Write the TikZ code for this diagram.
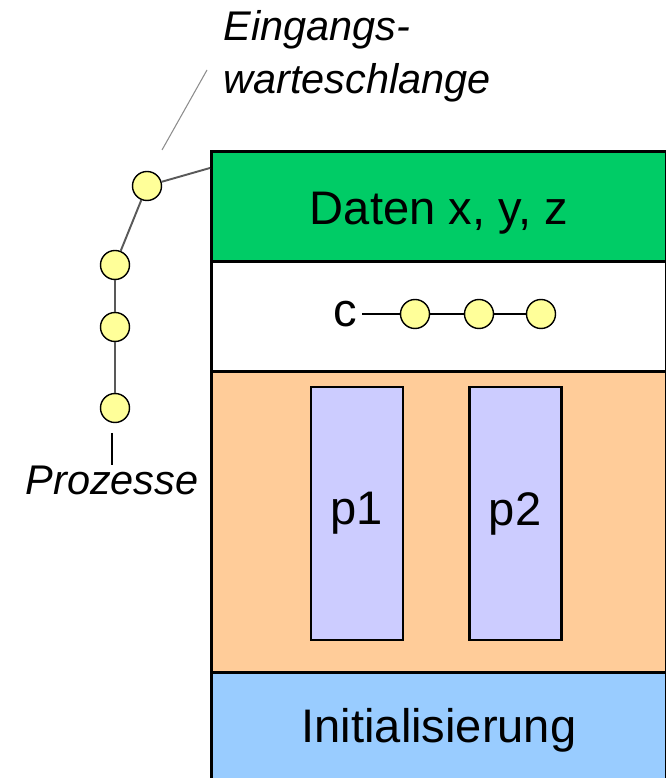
\documentclass[tikz,border=0pt]{standalone}
\usepackage{fontspec}
\setmainfont{Liberation Sans}
\usetikzlibrary{positioning}
\definecolor{datagreen}{RGB}{0,204,102}
\definecolor{procorange}{RGB}{255,204,153}
\definecolor{initblue}{RGB}{153,204,255}
\definecolor{procblue}{RGB}{204,204,255}
\definecolor{elemyellow}{RGB}{255,255,153}

\begin{document}
\begin{tikzpicture}[font=\fontsize{26.8}{32}\selectfont,
  sec/.style={draw, line width=1.7pt, minimum width=9.1cm, anchor=north west, inner sep=0},
  proc/.style={draw, line width=1.7pt, fill=procblue, minimum width=1.84cm, minimum height=5.06cm},
  elem/.style={circle, draw, line width=0.8pt, fill=elemyellow, minimum size=0.58cm, inner sep=0},
  lbl/.style={font=\fontsize{23.6}{30.2}\selectfont\itshape, inner sep=0}]
\useasboundingbox (0,0) rectangle (13.32,15.56);
\clip (0,0) rectangle (13.32,15.56);

\node[sec, fill=datagreen, minimum height=2.2cm, text height=0.9cm, text depth=0.18cm] (daten) at (4.2,12.56) {Daten x, y, z};
\node[sec, fill=white, minimum height=2.2cm] (cond) at (4.2,10.36) {};
\node[sec, fill=procorange, minimum height=6.02cm] (procs) at (4.2,8.16) {};
\node[sec, fill=initblue, minimum height=2.3cm] (init) at (4.2,2.14) {Initialisierung};

\node[proc] (p1) at (7.14,5.29) {p1};
\node[proc] (p2) at (10.3,5.29) {p2};

\node[inner sep=3pt] (c) at (6.9,9.28) {c};
\node[elem] (c1) at (8.3,9.28) {};
\node[elem] (c2) at (9.58,9.28) {};
\node[elem] (c3) at (10.82,9.28) {};
\draw[line width=0.9pt] (c) -- (c1) -- (c2) -- (c3);

\node[elem] (q1) at (2.94,11.84) {};
\node[elem] (q2) at (2.3,10.26) {};
\node[elem] (q3) at (2.3,9.02) {};
\node[elem] (q4) at (2.3,7.4) {};
\coordinate (entry) at ([yshift=-0.36cm]daten.north west);
\draw[black!65, line width=1.1pt] (q1) -- (entry);
\draw[black!65, line width=1.1pt] (q1) -- (q2) -- (q3) -- (q4);

\node[lbl] (prozesse) at (2.24,5.96) {Prozesse};
\coordinate (tick) at (2.24,6.9);
\draw[line width=1.2pt] (tick) -- (tick |- prozesse.north);

\node[lbl, align=left, anchor=north west] (queue) at (4.46,15.36) {Eingangs-\\warteschlange};
\coordinate (qtip) at (3.24,12.56);
\coordinate (ltip) at (4.14,14.16);
\draw[black!45, line width=0.6pt] (qtip) -- (ltip);

\end{tikzpicture}
\end{document}
